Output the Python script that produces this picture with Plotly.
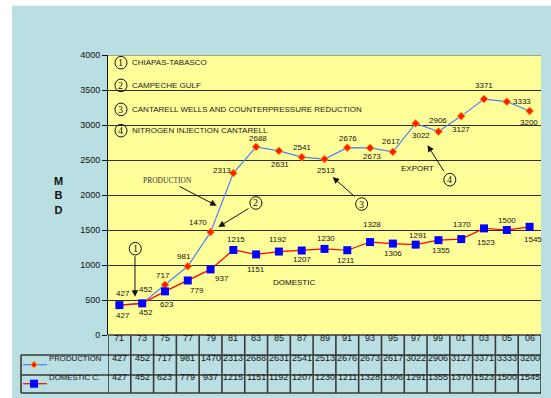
import plotly.graph_objects as go

# ---------------- data ----------------
years = ["71", "73", "75", "77", "79", "81", "83", "85", "87", "89",
         "91", "93", "95", "97", "99", "01", "03", "05", "06"]
production = [427, 452, 717, 981, 1470, 2313, 2688, 2631, 2541, 2513,
              2676, 2673, 2617, 3022, 2906, 3127, 3371, 3333, 3200]
domestic = [427, 452, 623, 779, 937, 1215, 1151, 1192, 1207, 1230,
            1211, 1328, 1306, 1291, 1355, 1370, 1523, 1500, 1545]
y_ticks = [0, 500, 1000, 1500, 2000, 2500, 3000, 3500, 4000]
milestones = ["CHIAPAS-TABASCO", "CAMPECHE GULF",
              "CANTARELL WELLS AND COUNTERPRESSURE REDUCTION",
              "NITROGEN INJECTION CANTARELL"]
series_names = ["PRODUCTION", "DOMESTIC C."]

# ---------------- styles / positions ----------------
FONT = "Arial, Liberation Sans, sans-serif"
SERIF = "Times New Roman, Liberation Serif, serif"
BLUE_BG = "#BADFE2"
YELLOW = "#FFFF99"
TXT = "#111111"
BORDER = "#3a3a3a"

# label offsets in pixels (dx right, dy down)
prod_off = [(4, -12), (4, -14), (-2, -9), (-4, -10), (-13, -10), (-11, -3), (2, -8),
            (1, 14), (0, -10), (1, 11), (1, -9), (2, 9), (-2, -10), (5, 12),
            (0, -11), (0, 13), (0, -14), (15, 0), (-1, 11)]
dom_off = [(4, 10), (4, 9), (2, 13), (9, 10), (11, 9), (3, -10), (0, 15), (-1, -12),
           (0, 9), (1, -10), (-1, 10), (2, -18), (0, 10), (2, -9), (3, 10),
           (1, -15), (2, 14), (0, -10), (3, 13)]

n = len(years)
xs = list(range(n))

fig = go.Figure()
fig.add_trace(go.Scatter(
    x=xs, y=production, mode="lines+markers", name=series_names[0],
    line=dict(color="#4F7FFF", width=1.2),
    marker=dict(symbol="diamond", size=6, color="#FF1A00",
                line=dict(color="#FF9A00", width=1)),
    showlegend=False, hoverinfo="skip"))
fig.add_trace(go.Scatter(
    x=xs, y=domestic, mode="lines+markers", name=series_names[1],
    line=dict(color="#FF0000", width=1.2),
    marker=dict(symbol="square", size=8, color="#0000FF"),
    showlegend=False, hoverinfo="skip"))

ann = []
shapes = []

# background panels
shapes.append(dict(type="rect", xref="paper", yref="paper", x0=-0.2217, x1=1.03,
                   y0=-0.25, y1=1.176, fillcolor=BLUE_BG, line=dict(width=0), layer="below"))
shapes.append(dict(type="rect", xref="paper", yref="paper", x0=0, x1=1,
                   y0=0, y1=1, fillcolor=YELLOW, line=dict(width=0), layer="below"))

# data labels
for i in range(n):
    dx, dy = prod_off[i]
    ann.append(dict(x=xs[i], y=production[i], xref="x", yref="y", text=str(production[i]),
                    showarrow=False, xshift=dx, yshift=-dy,
                    font=dict(family=FONT, size=8, color=TXT)))
    dx, dy = dom_off[i]
    ann.append(dict(x=xs[i], y=domestic[i], xref="x", yref="y", text=str(domestic[i]),
                    showarrow=False, xshift=dx, yshift=-dy,
                    font=dict(family=FONT, size=8, color=TXT)))

# circled numbers helper
def circled(num, x, y):
    shapes.append(dict(type="circle", xref="x", yref="y", xsizemode="pixel",
                       ysizemode="pixel", xanchor=x, yanchor=y, x0=-6, x1=6, y0=-6.3, y1=6.3,
                       line=dict(color="#111", width=1), fillcolor="rgba(0,0,0,0)"))
    ann.append(dict(x=x, y=y, xref="x", yref="y", text=str(num), showarrow=False,
                    font=dict(family=SERIF, size=10, color="#111"), yshift=0))

# milestone legend at top
leg_y = [3890, 3566, 3223, 2919]
for k, (txt, yy) in enumerate(zip(milestones, leg_y)):
    circled(k + 1, 0.07, yy)
    ann.append(dict(x=0.465, y=yy, xref="x", yref="y", text=txt, showarrow=False,
                    xanchor="left", font=dict(family=FONT, size=8, color="#222")))

# circled markers in plot with arrows
circled(1, 0.697, 1233)
circled(2, 5.99, 1886)
circled(3, 10.63, 1871)
circled(4, 14.5, 2219)

arrows = [((0.684, 547), (0.684, 1147)),
          ((4.34, 1543), (5.73, 1819)),
          ((4.27, 1847), (2.57, 2133)),
          ((9.36, 2257), (10.38, 1961)),
          ((13.52, 2709), (14.28, 2319))]
for (hx, hy), (tx, ty) in arrows:
    ann.append(dict(x=hx, y=hy, ax=tx, ay=ty, xref="x", yref="y", axref="x", ayref="y",
                    text="", showarrow=True, arrowhead=2, arrowsize=1.3, arrowwidth=1,
                    arrowcolor="#111", standoff=0, startstandoff=0))

ann.append(dict(x=2.13, y=2204, xref="x", yref="y", text="PRODUCTION", showarrow=False,
                font=dict(family=SERIF, size=7.5, color="#333")))
ann.append(dict(x=13.07, y=2376, xref="x", yref="y", text="EXPORT", showarrow=False,
                font=dict(family=FONT, size=8, color=TXT)))
ann.append(dict(x=7.66, y=743, xref="x", yref="y", text="DOMESTIC", showarrow=False,
                font=dict(family=FONT, size=8, color=TXT)))

# top plot border
shapes.append(dict(type="line", xref="paper", yref="y", x0=0, x1=1, y0=4000, y1=4000,
                   line=dict(color="#A5A57A", width=2)))

# y-axis title
ann.append(dict(x=-0.129, y=0.5, xref="paper", yref="paper", text="<b>M<br>B<br>D</b>",
                showarrow=False, font=dict(family=FONT, size=11, color="#111")))

# ---------------- data table ----------------
Y_HDR, Y_P, Y_D = -0.0346, -0.106, -0.174
Y_B1, Y_B2, Y_B3 = -0.0714, -0.1429, -0.207
XL = -0.2009
for i in range(n):
    ann.append(dict(x=xs[i], y=Y_HDR, xref="x", yref="paper", text=years[i], showarrow=False,
                    font=dict(family=FONT, size=9, color=TXT)))
    ann.append(dict(x=xs[i], y=Y_P, xref="x", yref="paper", text=str(production[i]),
                    showarrow=False, font=dict(family=FONT, size=9, color=TXT)))
    ann.append(dict(x=xs[i], y=Y_D, xref="x", yref="paper", text=str(domestic[i]),
                    showarrow=False, font=dict(family=FONT, size=9, color=TXT)))
for k in range(n + 1):
    shapes.append(dict(type="line", xref="x", yref="paper", x0=k - 0.5, x1=k - 0.5,
                       y0=0, y1=Y_B3, line=dict(color=BORDER, width=1.6)))
shapes.append(dict(type="line", xref="paper", yref="paper", x0=0, x1=1, y0=0, y1=0,
                   line=dict(color=BORDER, width=1.6)))
for yy in (Y_B1, Y_B2, Y_B3):
    shapes.append(dict(type="line", xref="paper", yref="paper", x0=XL, x1=1, y0=yy, y1=yy,
                       line=dict(color=BORDER, width=1.6)))
shapes.append(dict(type="line", xref="paper", yref="paper", x0=XL, x1=XL, y0=Y_B1, y1=Y_B3,
                   line=dict(color=BORDER, width=1.6)))

# legend samples in table
ann.append(dict(x=-0.1363, y=Y_P, xref="paper", yref="paper", xanchor="left",
                text=series_names[0], showarrow=False, xshift=-2,
                font=dict(family=FONT, size=7.8, color=TXT)))
ann.append(dict(x=-0.1363, y=Y_D, xref="paper", yref="paper", xanchor="left",
                text=series_names[1], showarrow=False, xshift=-2,
                font=dict(family=FONT, size=7.8, color=TXT)))
shapes.append(dict(type="line", xref="paper", yref="paper", x0=-0.1963, x1=-0.1409,
                   y0=Y_P, y1=Y_P, line=dict(color="#4F7FFF", width=1.2)))
shapes.append(dict(type="line", xref="paper", yref="paper", x0=-0.1963, x1=-0.1409,
                   y0=Y_D, y1=Y_D, line=dict(color="#FF0000", width=1.2)))
shapes.append(dict(type="path", xref="paper", yref="paper", xsizemode="pixel",
                   ysizemode="pixel", xanchor=-0.1709, yanchor=Y_P,
                   path="M0,3.5 L3,0 L0,-3.5 L-3,0 Z", fillcolor="#FF1A00",
                   line=dict(color="#FF9A00", width=1)))
shapes.append(dict(type="rect", xref="paper", yref="paper", xsizemode="pixel",
                   ysizemode="pixel", xanchor=-0.1709, yanchor=Y_D,
                   x0=-4, x1=4, y0=-4, y1=4, fillcolor="#0000FF", line=dict(width=0)))

fig.update_layout(
    width=551, height=398,
    margin=dict(l=108, r=10, t=55, b=63),
    paper_bgcolor="white", plot_bgcolor="rgba(0,0,0,0)",
    shapes=shapes, annotations=ann,
    xaxis=dict(range=[-0.5, n - 0.5], showticklabels=False, showgrid=False,
               zeroline=False, showline=False, fixedrange=True),
    yaxis=dict(range=[0, 4000], tickvals=y_ticks, showgrid=True, gridcolor="#2e2e22",
               gridwidth=1, zeroline=False, showline=True, linecolor="#111", linewidth=1,
               ticks="outside", ticklen=5, tickcolor="#111",
               tickfont=dict(family=FONT, size=9, color=TXT), fixedrange=True),
    showlegend=False,
)

fig.write_html("out.html")
